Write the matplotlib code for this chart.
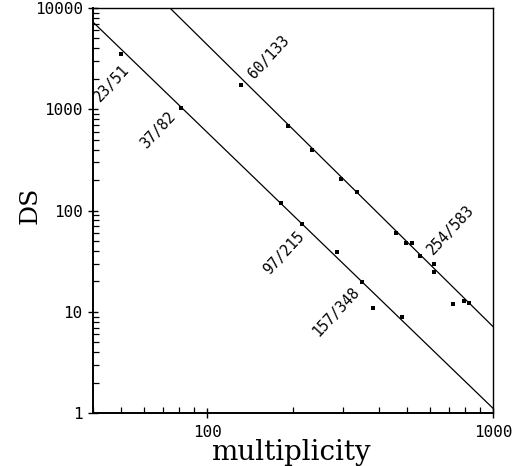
import numpy as np
import matplotlib
matplotlib.use("Agg")
import matplotlib.pyplot as plt
from matplotlib.ticker import LogLocator, FixedLocator, FixedFormatter, NullFormatter

# measured degeneracy vs. multiplicity, two families of approximants
lower_mult = [50, 81, 182, 214, 285, 349, 380, 480]
lower_ds = [3540, 1030, 119, 74, 39.4, 19.8, 10.9, 8.9]

upper_mult = [131, 192, 233, 295, 335, 458, 497, 520, 557, 622, 622, 723, 789, 822]
upper_ds = [1720, 677, 400, 207, 154, 60, 48.4, 48.4, 35.5, 29.6, 25.0, 12.1, 12.9, 12.2]

# power-law fits DS = DS(1000) * (m / 1000) ** slope
upper_fit_ds1000 = 7.17
upper_fit_slope = -2.783
lower_fit_ds1000 = 1.12
lower_fit_slope = -2.725

# approximant labels and their positions (multiplicity, DS)
label_text = ["23/51", "37/82", "60/133", "97/215", "157/348", "254/583"]
label_mult = [46.3, 67.3, 164, 186, 281.5, 710]
label_ds = [1808, 614, 3300, 38.3, 10.1, 64.6]

x_ticks = [100, 1000]
x_ticklabels = ["100", "1000"]
y_ticks = [1, 10, 100, 1000, 10000]
y_ticklabels = ["1", "10", "100", "1000", "10000"]

mono = "DejaVu Sans Mono"

fig = plt.figure(figsize=(5.12, 4.66), dpi=100)
ax = fig.add_axes([0.182, 0.113, 0.781, 0.870])
ax.set_xscale("log")
ax.set_yscale("log")
ax.set_xlim(40, 1000)
ax.set_ylim(1, 10000)

m = np.array([40.0, 1000.0])
ax.plot(m, upper_fit_ds1000 * (m / 1000.0) ** upper_fit_slope, color="black", lw=0.9)
ax.plot(m, lower_fit_ds1000 * (m / 1000.0) ** lower_fit_slope, color="black", lw=0.9)

ax.plot(upper_mult, upper_ds, "s", color="black", ms=2.2, mew=0)
ax.plot(lower_mult, lower_ds, "s", color="black", ms=2.2, mew=0)

for t, xm, yd in zip(label_text, label_mult, label_ds):
    ax.text(xm, yd, t, rotation=47, rotation_mode="anchor", ha="center", va="center",
            fontsize=10.5, family=mono, color="black")

ax.xaxis.set_major_locator(FixedLocator(x_ticks))
ax.xaxis.set_major_formatter(FixedFormatter(x_ticklabels))
ax.yaxis.set_major_locator(FixedLocator(y_ticks))
ax.yaxis.set_major_formatter(FixedFormatter(y_ticklabels))
ax.xaxis.set_minor_locator(LogLocator(base=10, subs=np.arange(2, 10)))
ax.yaxis.set_minor_locator(LogLocator(base=10, subs=np.arange(2, 10)))
ax.xaxis.set_minor_formatter(NullFormatter())
ax.yaxis.set_minor_formatter(NullFormatter())

ax.tick_params(which="major", direction="inout", length=7, width=1.0, labelsize=11.5)
ax.tick_params(which="minor", direction="in", length=4, width=0.9)
ax.tick_params(axis="x", which="major", pad=5)
ax.tick_params(axis="y", which="major", pad=4)
for lab in ax.get_xticklabels() + ax.get_yticklabels():
    lab.set_family(mono)

for side in ["left", "bottom"]:
    ax.spines[side].set_linewidth(1.4)
for side in ["top", "right"]:
    ax.spines[side].set_linewidth(1.0)

ax.set_xlabel("multiplicity", family="DejaVu Serif", fontsize=20)
ax.set_ylabel("DS", family="DejaVu Serif", fontsize=18)
ax.xaxis.set_label_coords(0.495, -0.064)
ax.yaxis.set_label_coords(-0.13, 0.513)

fig.savefig("out.png", dpi=100)
